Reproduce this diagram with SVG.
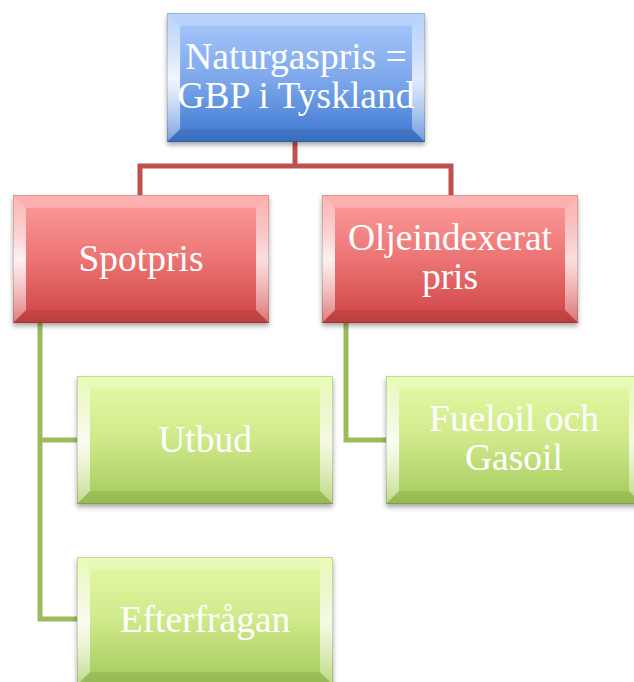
<svg xmlns="http://www.w3.org/2000/svg" width="634" height="682" viewBox="0 0 634 682">
<defs>
<linearGradient id="gBlue" x1="0" y1="0" x2="0" y2="1">
<stop offset="0" stop-color="#a9c9fb"/><stop offset="0.5" stop-color="#7fa9ec"/><stop offset="1" stop-color="#3c77cf"/>
</linearGradient>
<linearGradient id="gRed" x1="0" y1="0" x2="0" y2="1">
<stop offset="0" stop-color="#ff9e9e"/><stop offset="0.5" stop-color="#ec7474"/><stop offset="1" stop-color="#cf4242"/>
</linearGradient>
<linearGradient id="gGreen" x1="0" y1="0" x2="0" y2="1">
<stop offset="0" stop-color="#e4fba6"/><stop offset="0.5" stop-color="#cfe98a"/><stop offset="1" stop-color="#a3c95a"/>
</linearGradient>
<linearGradient id="gSide" x1="0" y1="0" x2="0" y2="1">
<stop offset="0" stop-color="#fff" stop-opacity="0.25"/><stop offset="0.5" stop-color="#fff" stop-opacity="0.9"/><stop offset="1" stop-color="#fff" stop-opacity="0.3"/>
</linearGradient>
<filter id="sh" x="-10%" y="-10%" width="120%" height="130%">
<feDropShadow dx="0" dy="3" stdDeviation="2.5" flood-color="#000" flood-opacity="0.35"/>
</filter>
<g id="bevel">
<polygon points="0,0 256,0 243,13 13,13" fill="#fff" fill-opacity="0.22"/>
<polygon points="0,0 13,13 13,115 0,128" fill="url(#gSide)"/>
<polygon points="256,0 256,128 243,115 243,13" fill="url(#gSide)" fill-opacity="0.85"/>
<polygon points="0,128 256,128 243,115 13,115" fill="#000" fill-opacity="0.08"/>
<rect x="0.5" y="0.5" width="255" height="127" fill="none" stroke="#000" stroke-opacity="0.15"/>
</g>
</defs>
<style>
.t{font-family:"Liberation Serif","DejaVu Serif",serif;font-size:37.5px;fill:#fff;text-anchor:middle}
.red{fill:none;stroke:#c0504d;stroke-width:5}
.grn{fill:none;stroke:#9bbb59;stroke-width:5}
</style>
<g id="connectors">
<path class="red" d="M295,142 V166 M140,196 V166 H451 V196"/>
<path class="grn" d="M40,323 V619 H78 M40,440 H78"/>
<path class="grn" d="M346,323 V440 H387"/>
</g>
<g id="node-naturgaspris" transform="translate(167,13)">
<g filter="url(#sh)"><rect width="258" height="129" fill="url(#gBlue)"/></g>
<use href="#bevel" transform="scale(1.008,1.008)"/>
<text class="t" x="129" y="56">Naturgaspris =</text>
<text class="t" x="129" y="95">GBP i Tyskland</text>
</g>
<g id="node-spotpris" transform="translate(13,195)">
<g filter="url(#sh)"><rect width="256" height="128" fill="url(#gRed)"/></g>
<use href="#bevel"/>
<text class="t" x="128" y="76">Spotpris</text>
</g>
<g id="node-oljeindexerat" transform="translate(322,195)">
<g filter="url(#sh)"><rect width="256" height="128" fill="url(#gRed)"/></g>
<use href="#bevel"/>
<text class="t" x="128" y="55">Oljeindexerat</text>
<text class="t" x="128" y="94">pris</text>
</g>
<g id="node-utbud" transform="translate(77,376)">
<g filter="url(#sh)"><rect width="256" height="128" fill="url(#gGreen)"/></g>
<use href="#bevel"/>
<text class="t" x="128" y="76">Utbud</text>
</g>
<g id="node-fueloil" transform="translate(386,376)">
<g filter="url(#sh)"><rect width="256" height="128" fill="url(#gGreen)"/></g>
<use href="#bevel"/>
<text class="t" x="128" y="55">Fueloil och</text>
<text class="t" x="128" y="94">Gasoil</text>
</g>
<g id="node-efterfragan" transform="translate(77,557)">
<g filter="url(#sh)"><rect width="256" height="128" fill="url(#gGreen)"/></g>
<use href="#bevel"/>
<text class="t" x="128" y="75">Efterfrågan</text>
</g>
</svg>
